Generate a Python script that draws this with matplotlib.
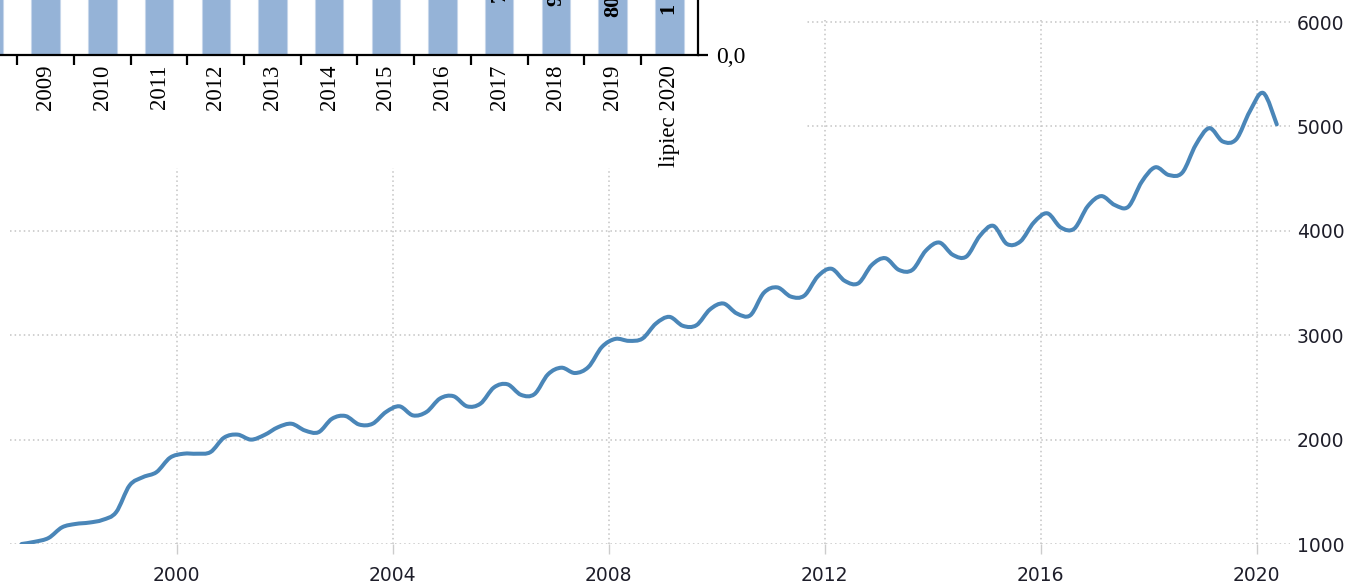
import numpy as np
import pandas as pd
import matplotlib
matplotlib.use("Agg")
import matplotlib.pyplot as plt
from matplotlib.path import Path
from matplotlib.patches import PathPatch, Rectangle

# quarterly average wage (PLN), 1997Q1 .. 2020Q2
quarters = pd.period_range("1997Q1", "2020Q2", freq="Q")
wages = [
    1000, 1022, 1058, 1160,
    1192, 1205, 1231, 1304,
    1561, 1641, 1689, 1827,
    1865, 1865, 1881, 2019,
    2048, 2000, 2045, 2119,
    2152, 2087, 2071, 2200,
    2226, 2145, 2152, 2265,
    2319, 2232, 2265, 2394,
    2416, 2319, 2345, 2500,
    2530, 2429, 2436, 2625,
    2689, 2638, 2696, 2888,
    2965, 2946, 2968, 3112,
    3176, 3090, 3096, 3247,
    3304, 3208, 3192, 3407,
    3458, 3370, 3380, 3565,
    3637, 3520, 3498, 3674,
    3738, 3626, 3626, 3811,
    3888, 3770, 3754, 3952,
    4048, 3875, 3898, 4080,
    4168, 4032, 4022, 4237,
    4333, 4247, 4231, 4471,
    4609, 4535, 4558, 4824,
    4984, 4856, 4878, 5144,
    5321, 5020,
]
year_ticks = [2000, 2004, 2008, 2012, 2016, 2020]
wage_ticks = [1000, 2000, 3000, 4000, 5000, 6000]

# inset bar chart (only the lower part is visible in the picture)
bar_labels = ["2008", "2009", "2010", "2011", "2012", "2013", "2014",
              "2015", "2016", "2017", "2018", "2019", "lipiec 2020"]
bar_values = [1126, 1276, 1317, 1386, 1500, 1600, 1680,
              1750, 1850, 2000, 2100, 2250, 2600]
# value labels inside the bars, their tops run off the picture
bar_texts = ["", "", "", "", "", "", "", "", "",
             "750,0", "950,0", "800,0", "1 000,0"]
text_pos = [0, 0, 0, 0, 0, 0, 0, 0, 0, 530, 490, 380, 400]


def smooth_path(x, y):
    # Catmull-Rom style spline turned into cubic bezier segments
    verts = [(x[0], y[0])]
    codes = [Path.MOVETO]
    n = len(x)
    for i in range(n - 1):
        xa, ya = (x[i - 1], y[i - 1]) if i > 0 else (x[i], y[i])
        xd, yd = (x[i + 2], y[i + 2]) if i + 2 < n else (x[i + 1], y[i + 1])
        c1 = (x[i] + (x[i + 1] - xa) / 6, y[i] + (y[i + 1] - ya) / 6)
        c2 = (x[i + 1] - (xd - x[i]) / 6, y[i + 1] - (yd - y[i]) / 6)
        verts += [c1, c2, (x[i + 1], y[i + 1])]
        codes += [Path.CURVE4] * 3
    return Path(verts, codes)


W, H = 1347, 585
fig = plt.figure(figsize=(W / 100, H / 100), dpi=100)
fig.patch.set_facecolor("white")

# main line chart
ax = fig.add_axes([10 / W, (H - 544) / H, 1280 / W, 524 / H])
t = np.array([p.start_time.year + (p.quarter - 1) / 4 + 0.125 for p in quarters])
v = np.array(wages, dtype=float)
ax.add_patch(PathPatch(smooth_path(t, v), fill=False, edgecolor="#4a86b8",
                       lw=2.9, capstyle="round", joinstyle="round", zorder=3))
ax.set_xlim(1996.91, 2020.62)
ax.set_ylim(1000, 6020)
ax.set_xticks(year_ticks)
ax.set_yticks(wage_ticks)
ax.set_xticklabels([str(y) for y in year_ticks])
ax.yaxis.tick_right()
ax.grid(True, color="#c4c4c4", linestyle=(0, (1, 2)), linewidth=1.1)
for s in ax.spines.values():
    s.set_visible(False)
ax.tick_params(axis="x", length=7, width=1, color="#cccccc", pad=9,
               labelsize=13.5, labelcolor="#1e1e2a")
ax.tick_params(axis="y", length=0, pad=5, labelsize=13.5, labelcolor="#1e1e2a")
for lab in ax.get_xticklabels() + ax.get_yticklabels():
    lab.set_family("DejaVu Sans")

# white block behind the inset
fig.add_artist(Rectangle((0, (H - 168) / H), 806 / W, 168 / H,
                         transform=fig.transFigure, facecolor="white",
                         edgecolor="none", zorder=1))

# inset bar chart
ax2 = fig.add_axes([-39.4 / W, (H - 55) / H, 737.1 / W, 300 / H], zorder=2)
ax2.patch.set_alpha(0)
idx = np.arange(len(bar_labels))
ax2.bar(idx, bar_values, width=0.5, color="#95b3d7", edgecolor="#c6d6ea",
        linewidth=0.8)
for i, (pos, txt) in enumerate(zip(text_pos, bar_texts)):
    if txt:
        ax2.text(i, pos, txt, rotation=90, ha="center", va="bottom",
                 family="Liberation Serif", fontweight="bold", fontsize=16)
ax2.set_xlim(-0.5, len(bar_labels) - 0.5)
ax2.set_ylim(0, 3000)
ax2.set_xticks(idx - 0.5, minor=False)
ax2.set_xticklabels([])
ax2.set_xticks(idx, minor=True)
ax2.set_xticklabels(bar_labels, minor=True, rotation=90,
                    family="Liberation Serif", fontsize=16.5)
ax2.tick_params(axis="x", which="major", direction="out", length=7, width=1.6,
                color="black")
ax2.tick_params(axis="x", which="minor", length=0, pad=7)
ax2.spines["top"].set_visible(False)
ax2.spines["left"].set_visible(False)
ax2.spines["bottom"].set_linewidth(1.6)
ax2.spines["right"].set_linewidth(1.6)
ax2.yaxis.tick_right()
ax2.set_yticks([0])
ax2.set_yticklabels(["0,0"], family="Liberation Serif", fontsize=17)
ax2.tick_params(axis="y", direction="out", length=7, width=1.6, pad=6)

fig.savefig("out.png", dpi=100)
